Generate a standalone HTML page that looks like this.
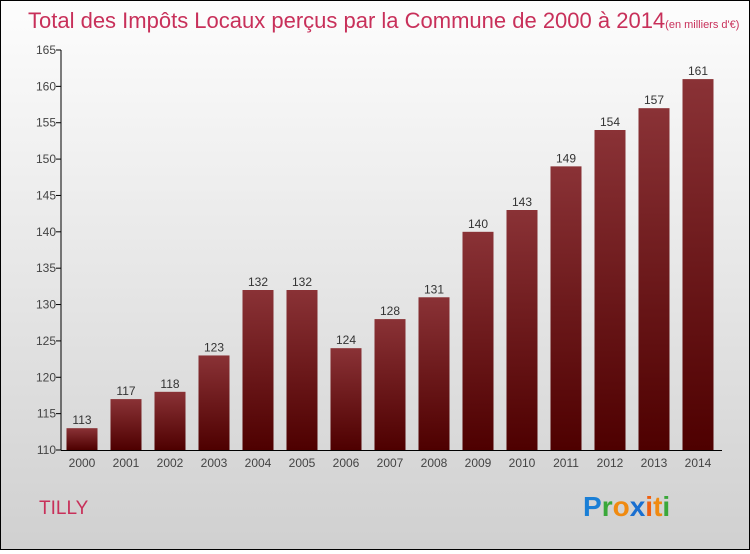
<!DOCTYPE html>
<html><head><meta charset="utf-8"><style>
body{margin:0;width:750px;height:550px;overflow:hidden;font-family:"Liberation Sans",sans-serif}
#wrap{position:absolute;left:0;top:0;width:748px;height:548px;border:1px solid #000;background:linear-gradient(#fdfdfd,#d0d0d0)}
</style></head><body>
<div id="wrap">
<svg width="748" height="548">
<defs><linearGradient id="bg" x1="0" y1="0" x2="0" y2="1"><stop offset="0" stop-color="#8a3236"/><stop offset="1" stop-color="#4e0000"/></linearGradient></defs>
<text x="27" y="27" font-size="22" fill="#c8305a">Total des Impôts Locaux perçus par la Commune de 2000 à 2014<tspan font-size="11">(en milliers d'€)</tspan></text>
<g id="plot"></g>
<text x="38" y="513" font-size="19" fill="#c8305a">TILLY</text>
<text x="582" y="515" font-size="28" font-weight="bold"><tspan fill="#1a7fd6">P</tspan><tspan fill="#3aa83a">r</tspan><tspan fill="#f08a10">o</tspan><tspan fill="#1a6fd0">x</tspan><tspan fill="#f06010">i</tspan><tspan fill="#f08a10">t</tspan><tspan fill="#3aa83a">i</tspan></text>
</svg></div>
<script>
const years=["2000","2001","2002","2003","2004","2005","2006","2007","2008","2009","2010","2011","2012","2013","2014"];
const values=[113,117,118,123,132,132,124,128,131,140,143,149,154,157,161];
const ticks=[110,115,120,125,130,135,140,145,150,155,160,165];
const NS="http://www.w3.org/2000/svg",g=document.getElementById('plot');
const y=v=>449-(v-110)*400/55, x=i=>81+i*44;
function mk(t,a){const e=document.createElementNS(NS,t);for(const k in a)e.setAttribute(k,a[k]);g.appendChild(e);return e;}
ticks.forEach(t=>{
const l=mk('line',{x1:55,x2:60,y1:y(t),y2:y(t),stroke:'#000'});


const tx=mk('text',{x:55,y:y(t)+4,'text-anchor':'end','font-size':12,fill:'#444'});tx.textContent=t;


});
values.forEach((v,i)=>{
const r=mk('rect',{x:x(i)-15.5,y:y(v),width:31,height:449-y(v),fill:'url(#bg)'});


const lb=mk('text',{x:x(i),y:y(v)-4,'text-anchor':'middle','font-size':12,fill:'#333'});lb.textContent=v;


const yl=mk('text',{x:x(i),y:466,'text-anchor':'middle','font-size':12,fill:'#444'});yl.textContent=years[i];


});
const ya=mk('line',{x1:60,x2:60,y1:y(165),y2:449,stroke:'#000'});


const xa=mk('line',{x1:60,x2:721,y1:449.5,y2:449.5,stroke:'#000'});


</script>
</body></html>
